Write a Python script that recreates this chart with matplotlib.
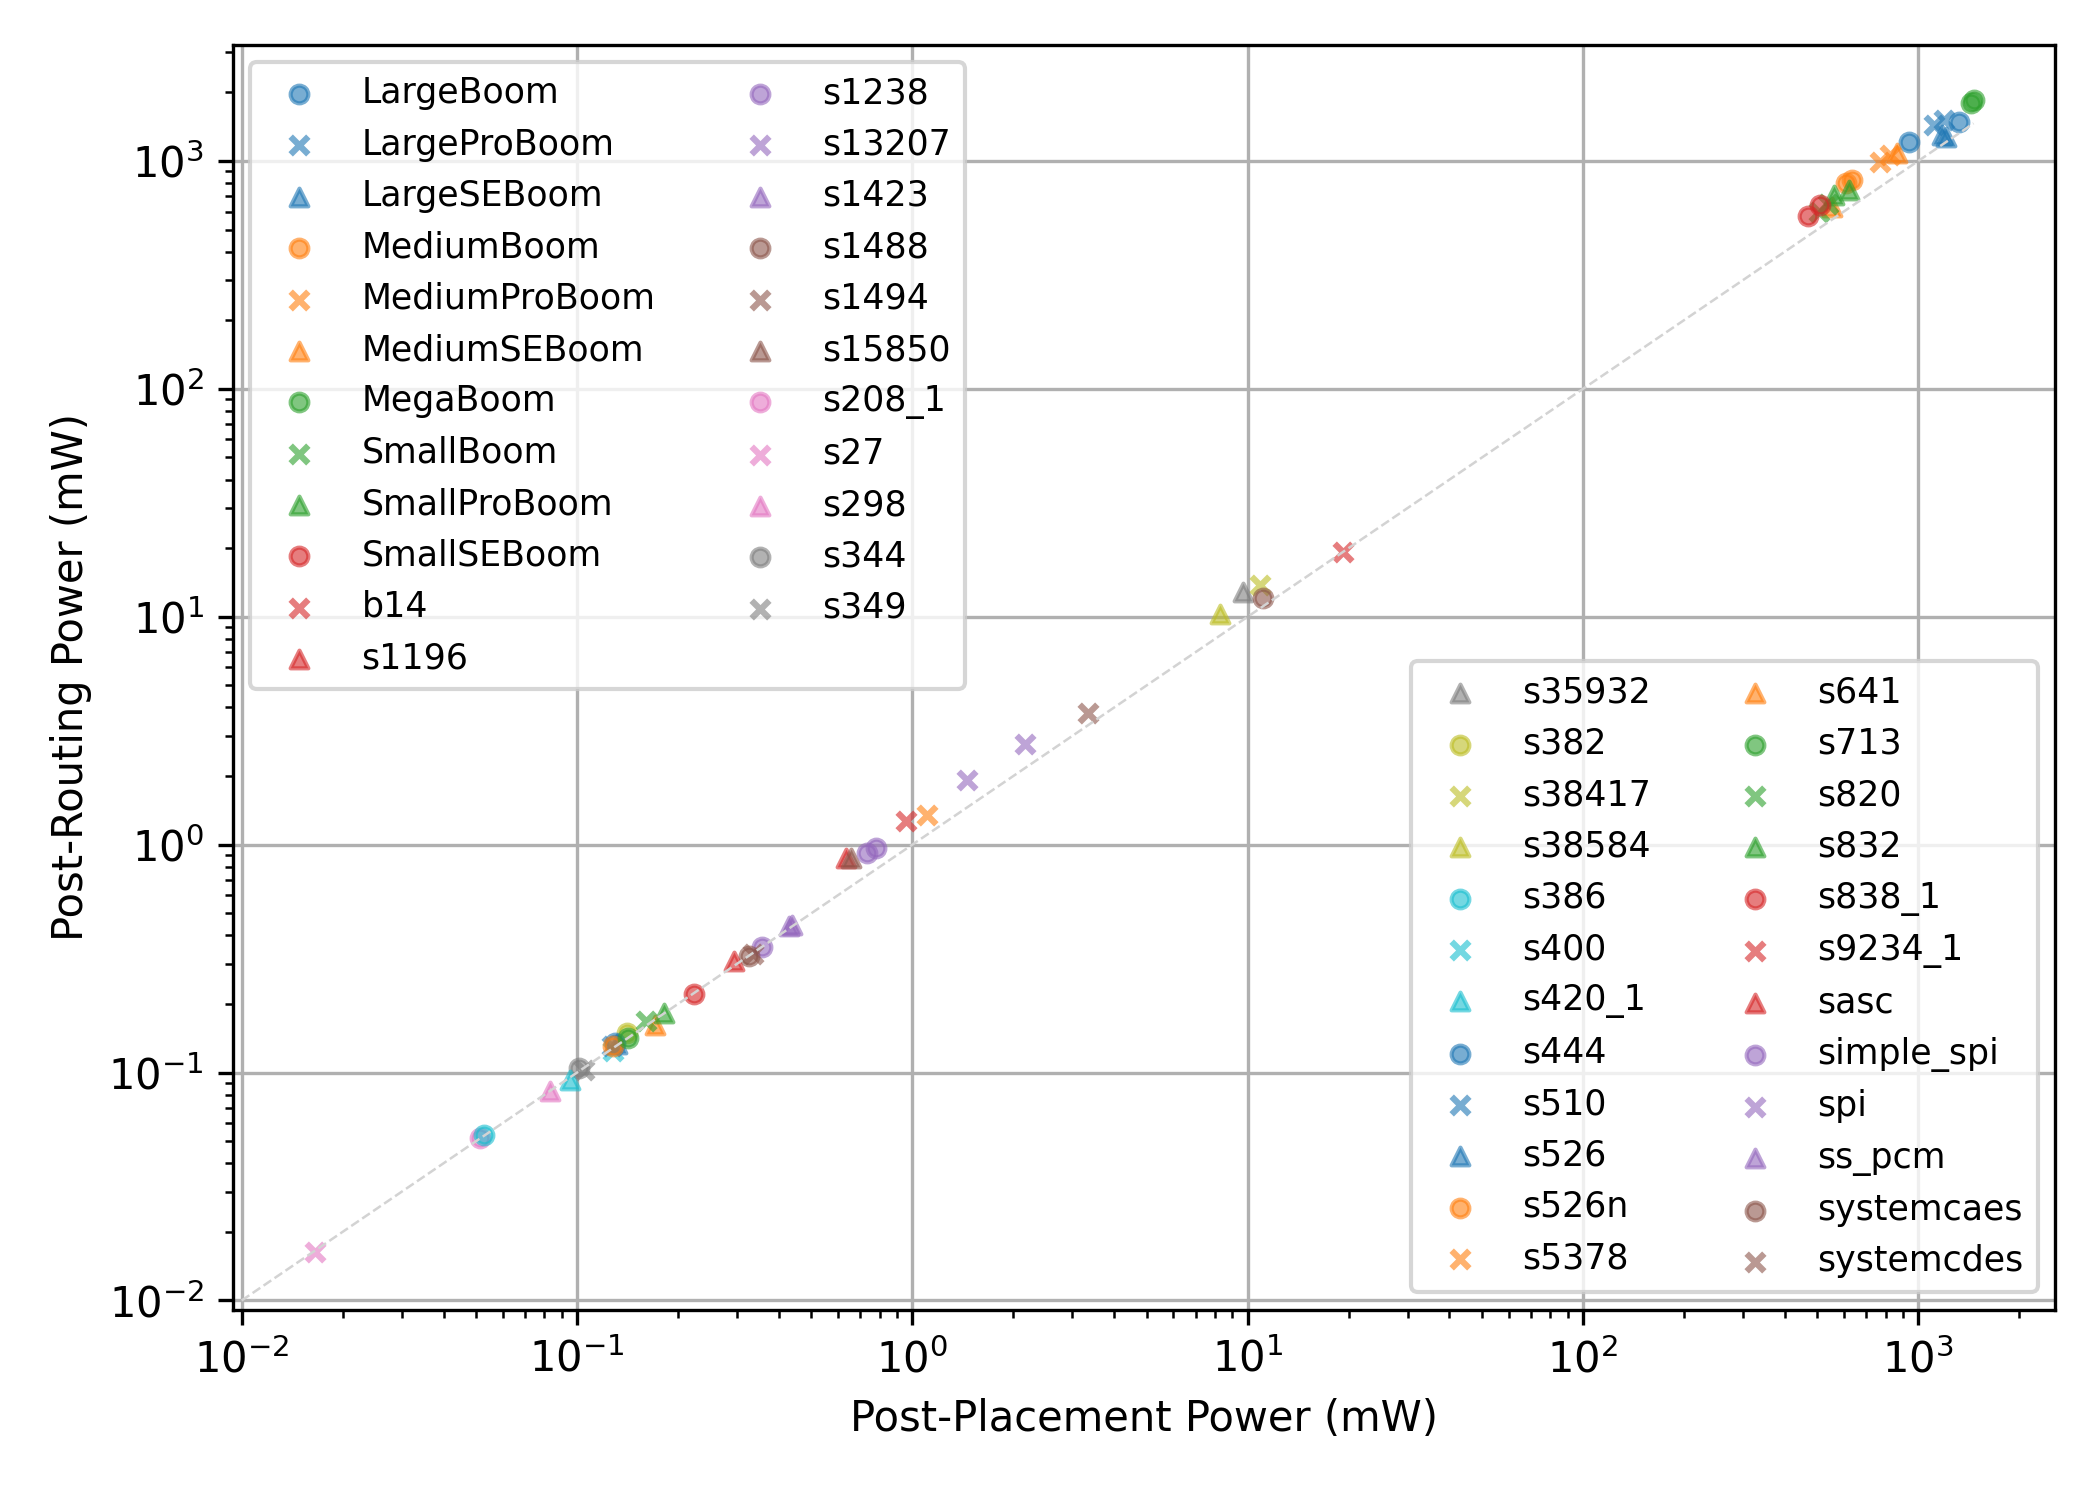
import numpy as np
import matplotlib
matplotlib.use("Agg")
from matplotlib import pyplot as plt

designs = [
    "LargeBoom", "LargeProBoom", "LargeSEBoom", "MediumBoom", "MediumProBoom",
    "MediumSEBoom", "MegaBoom", "SmallBoom", "SmallProBoom", "SmallSEBoom",
    "b14", "s1196", "s1238", "s13207", "s1423", "s1488", "s1494", "s15850",
    "s208_1", "s27", "s298", "s344", "s349", "s35932", "s382", "s38417",
    "s38584", "s386", "s400", "s420_1", "s444", "s510", "s526", "s526n",
    "s5378", "s641", "s713", "s820", "s832", "s838_1", "s9234_1", "sasc",
    "simple_spi", "spi", "ss_pcm", "systemcaes", "systemcdes",
]

# post-placement power per design (mW)
post_place = [
    [937, 1321], [1112, 1191], [1207, 1180], [635, 607], [771, 826],
    [865, 553], [1432, 1462], [505, 540], [621, 560], [469, 509],
    [19.3], [0.634], [0.356], [2.17], [0.43], [0.327], [0.335], [0.655],
    [0.0514], [0.0166], [0.083], [0.1016], [0.105], [9.71], [0.1406], [10.9],
    [8.25], [0.0529], [0.128], [0.0953], [0.130], [0.127], [0.132], [0.128],
    [1.11], [0.171], [0.142], [0.161], [0.182], [0.224], [0.955], [0.294],
    [0.734, 0.778], [1.46], [0.438], [11.1], [3.35],
]

# post-routing power per design (mW)
post_route = [
    [1216, 1486], [1439, 1514], [1279, 1300], [826, 798], [993, 1062],
    [1080, 630], [1796, 1853], [600, 650], [746, 710], [574, 641],
    [19.3], [0.875], [0.355], [2.77], [0.44], [0.326], [0.33], [0.875],
    [0.0517], [0.0163], [0.0828], [0.105], [0.103], [12.9], [0.149], [13.8],
    [10.3], [0.053], [0.124], [0.0932], [0.135], [0.131], [0.133], [0.131],
    [1.355], [0.162], [0.142], [0.168], [0.183], [0.221], [1.265], [0.308],
    [0.921, 0.969], [1.93], [0.446], [12.1], [3.80],
]

markers = ["o", "x", "^"]
colors = plt.cm.tab10.colors

fig, ax = plt.subplots(figsize=(7, 5), dpi=300)

handles = []
for i, name in enumerate(designs):
    h = ax.scatter(post_place[i], post_route[i], s=18, alpha=0.6,
                   marker=markers[i % 3], color=colors[(i // 3) % 10], label=name)
    handles.append(h)

all_x = np.concatenate([np.array(v) for v in post_place])
lo = 10 ** np.floor(np.log10(all_x.min()))
hi = all_x.max()
ax.plot([lo, hi], [lo, hi], "--", color="lightgray", linewidth=0.6, zorder=1)

ax.set_xscale("log")
ax.set_yscale("log")
ax.set_xlim(0.00943, 2559)
ax.set_ylim(0.00913, 3228)
ax.set_xlabel("Post-Placement Power (mW)")
ax.set_ylabel("Post-Routing Power (mW)")
ax.grid(True)
ax.set_axisbelow(True)

leg1 = ax.legend(handles=handles[:23], loc="upper left", ncol=2, fontsize="small")
ax.add_artist(leg1)
ax.legend(handles=handles[23:], loc="lower right", ncol=2, fontsize="small")

plt.subplots_adjust(left=0.111, right=0.9786, top=0.97, bottom=0.127)
plt.savefig("out.png")
